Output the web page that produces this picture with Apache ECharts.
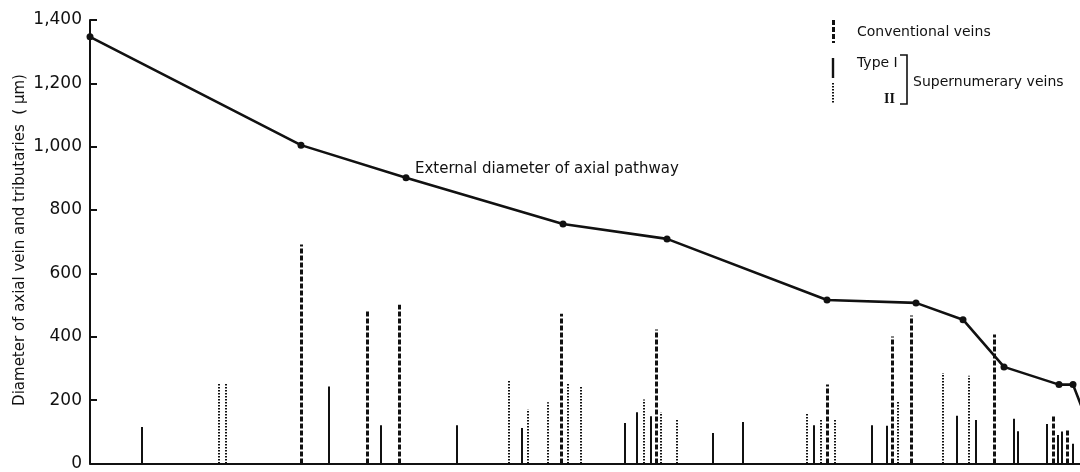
<!DOCTYPE html>
<html>
<head>
<meta charset="utf-8">
<script src="https://cdn.jsdelivr.net/npm/echarts@6/dist/echarts.min.js"></script>
<style>
html,body{margin:0;padding:0;background:#fff;}
#chart{width:1080px;height:472px;}
</style>
</head>
<body>
<div id="chart"></div>
<script>
// distance along vein (arbitrary units) and external diameter (µm)
const pathX = [0, 21.1, 31.6, 47.3, 57.7, 73.7, 82.6, 87.3, 91.4, 96.9, 98.3, 101];
const pathY = [1347, 1005, 902, 756, 709, 516, 507, 454, 305, 249, 249, 30];

// conventional veins (dashed)
const convX = [21.1, 27.7, 30.9, 47.1, 56.6, 73.7, 80.2, 82.1, 90.4, 96.3, 97.7];
const convY = [691, 482, 501, 473, 423, 249, 401, 467, 407, 152, 104];

// supernumerary type I (solid)
const type1X = [5.2, 23.9, 29.1, 36.7, 43.2, 53.5, 54.7, 56.1, 62.3, 65.3, 72.4, 78.2, 79.7, 86.7, 88.6, 92.4, 92.8, 95.7, 96.8, 97.2, 98.3];
const type1Y = [115, 243, 121, 121, 112, 128, 162, 149, 96, 131, 121, 121, 119, 151, 137, 141, 102, 125, 90, 101, 62];

// supernumerary type II (dotted)
const type2X = [12.9, 13.6, 41.9, 43.8, 45.8, 47.8, 49.1, 55.4, 57.1, 58.7, 71.7, 73.1, 74.5, 80.8, 85.3, 87.9];
const type2Y = [255, 252, 261, 171, 193, 255, 246, 202, 162, 137, 161, 140, 141, 199, 286, 277];

const yTicks = [0, 200, 400, 600, 800, 1000, 1200, 1400];

const FONT = 'DejaVu Sans';
const INK = '#111';

function zip(a, b) { return a.map((v, i) => [v, b[i]]); }

function stickRenderer(lineWidth, lineDash) {
  return function (params, api) {
    const p0 = api.coord([api.value(0), 0]);
    const p1 = api.coord([api.value(0), api.value(1)]);
    const x = Math.round(p0[0]) + (Math.round(lineWidth) % 2 ? 0.5 : 0);
    return {
      type: 'line',
      shape: { x1: x, y1: p0[1], x2: x, y2: p1[1] },
      style: { stroke: INK, lineWidth: lineWidth, lineDash: lineDash, fill: null }
    };
  };
}

const chart = echarts.init(document.getElementById('chart'));
chart.setOption({
  animation: false,
  backgroundColor: '#fff',
  grid: { left: 90, right: 0, top: 20, bottom: 2, containLabel: false },
  xAxis: {
    type: 'value', min: 0, max: 99,
    axisLine: { show: true, lineStyle: { color: INK, width: 2 } },
    axisTick: { show: false }, axisLabel: { show: false }, splitLine: { show: false }
  },
  yAxis: {
    type: 'value', min: 0, max: 1400, interval: 200,
    axisLine: { show: true, lineStyle: { color: INK, width: 2 } },
    axisTick: { show: true, inside: true, length: 7, lineStyle: { color: INK, width: 2 } },
    axisLabel: {
      color: INK, fontFamily: FONT, fontSize: 17, margin: 8,
      formatter: v => yTicks.indexOf(v) >= 0 ? (v >= 1000 ? Math.floor(v / 1000) + ',' + String(v % 1000).padStart(3, '0') : String(v)) : ''
    },
    splitLine: { show: false }
  },
  series: [
    {
      type: 'custom', name: 'Conventional veins', renderItem: stickRenderer(3, [5, 2]),
      data: zip(convX, convY), encode: { x: 0, y: 1 }, clip: true, z: 3
    },
    {
      type: 'custom', name: 'Type I', renderItem: stickRenderer(2, null),
      data: zip(type1X, type1Y), encode: { x: 0, y: 1 }, clip: true, z: 3
    },
    {
      type: 'custom', name: 'Type II', renderItem: stickRenderer(2, [1.5, 1.5]),
      data: zip(type2X, type2Y), encode: { x: 0, y: 1 }, clip: true, z: 3
    },
    {
      type: 'line', name: 'External diameter of axial pathway',
      data: zip(pathX, pathY), clip: true, z: 4,
      symbol: 'circle', symbolSize: 7, showSymbol: true,
      lineStyle: { color: INK, width: 2.6 },
      itemStyle: { color: INK }
    }
  ],
  graphic: [
    { type: 'text', x: 20, y: 240, rotation: Math.PI / 2,
      style: { text: 'Diameter of axial vein and tributaries  ( µm)', font: '15px "' + FONT + '"', fill: INK, textAlign: 'center', textVerticalAlign: 'middle' } },
    { type: 'text', x: 415, y: 169,
      style: { text: 'External diameter of axial pathway', font: '15px "' + FONT + '"', fill: INK, textAlign: 'left', textVerticalAlign: 'middle' } },
    // legend
    { type: 'line', shape: { x1: 833.5, y1: 20, x2: 833.5, y2: 43 }, style: { stroke: INK, lineWidth: 3, lineDash: [5, 2] } },
    { type: 'text', x: 857, y: 32, style: { text: 'Conventional veins', font: '14px "' + FONT + '"', fill: INK, textVerticalAlign: 'middle' } },
    { type: 'line', shape: { x1: 833, y1: 58, x2: 833, y2: 78 }, style: { stroke: INK, lineWidth: 2.4 } },
    { type: 'text', x: 857, y: 63, style: { text: 'Type I', font: '14px "' + FONT + '"', fill: INK, textVerticalAlign: 'middle' } },
    { type: 'line', shape: { x1: 833, y1: 83, x2: 833, y2: 103 }, style: { stroke: INK, lineWidth: 2, lineDash: [1.5, 1.5] } },
    { type: 'text', x: 884, y: 99, style: { text: 'II', font: 'bold 14px "Liberation Serif"', fill: INK, textVerticalAlign: 'middle' } },
    { type: 'polyline', shape: { points: [[900, 55], [907, 55], [907, 104], [900, 104]] }, style: { stroke: INK, lineWidth: 1.6, fill: null } },
    { type: 'text', x: 913, y: 82, style: { text: 'Supernumerary veins', font: '14px "' + FONT + '"', fill: INK, textVerticalAlign: 'middle' } }
  ]
});
</script>
</body>
</html>
